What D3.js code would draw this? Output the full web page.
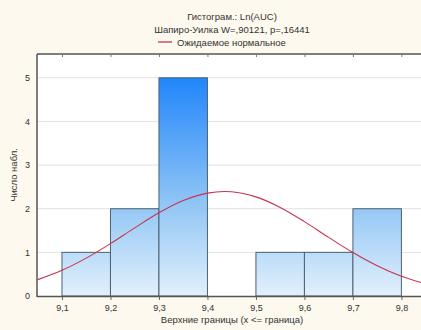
<!DOCTYPE html>
<html><head><meta charset="utf-8">
<script src="https://cdn.jsdelivr.net/npm/d3@7"></script>
<style>
html,body{margin:0;padding:0;background:#fdf9ee;}
svg{display:block;font-family:"Liberation Sans",Arial,sans-serif;}
</style></head>
<body><svg id="c" width="421" height="330"></svg>
<script>
const binStarts = [9.1, 9.2, 9.3, 9.4, 9.5, 9.6, 9.7];
const binEnds   = [9.2, 9.3, 9.4, 9.5, 9.6, 9.7, 9.8];
const counts    = [1, 2, 5, 0, 1, 1, 2];
const xTicks = [9.1, 9.2, 9.3, 9.4, 9.5, 9.6, 9.7, 9.8];
const yTicks = [0, 1, 2, 3, 4, 5];
const curveX = [9.05,9.10,9.15,9.20,9.25,9.30,9.35,9.40,9.45,9.50,9.55,9.60,9.65,9.70,9.75,9.80,9.85];
const curveY = [0.375,0.589,0.868,1.200,1.561,1.906,2.187,2.358,2.387,2.271,2.030,1.704,1.343,0.995,0.693,0.452,0.278];
const titleLines = ["Гистограм.: Ln(AUC)", "Шапиро-Уилка W=,90121, p=,16441"];
const legendText = "Ожидаемое нормальное";
const xLabel = "Верхние границы (x <= граница)";
const yLabel = "Число набл.";

const svg = d3.select("#c");
const L = 37, T = 54, B = 296, R = 421;
const x = d3.scaleLinear().domain([9.0485, 9.8404]).range([L, R]);
const y = d3.scaleLinear().domain([0, 5.545]).range([B, T]);

// plot bg
svg.append("rect").attr("x", L).attr("y", T).attr("width", R - L).attr("height", B - T).attr("fill", "#ffffff");

// gradient
const defs = svg.append("defs");
const g = defs.append("linearGradient").attr("id", "bg").attr("gradientUnits", "userSpaceOnUse")
  .attr("x1", 0).attr("x2", 0).attr("y1", y(0)).attr("y2", y(5));
g.append("stop").attr("offset", "0%").attr("stop-color", "#e2f0fc");
g.append("stop").attr("offset", "40%").attr("stop-color", "#95c8f5");
g.append("stop").attr("offset", "100%").attr("stop-color", "#2186fb");

// grid
svg.append("g").selectAll("line").data(yTicks.filter(d => d > 0)).join("line")
  .attr("x1", L).attr("x2", R).attr("y1", d => y(d)).attr("y2", d => y(d))
  .attr("stroke", "#e2e2e2").attr("stroke-width", 1);

// bars
svg.append("g").selectAll("rect").data(counts.map((c, i) => ({c, s: binStarts[i], e: binEnds[i]})).filter(d => d.c > 0))
  .join("rect")
  .attr("x", d => x(d.s)).attr("y", d => y(d.c))
  .attr("width", d => x(d.e) - x(d.s)).attr("height", d => y(0) - y(d.c))
  .attr("fill", "url(#bg)").attr("stroke", "#4d6272").attr("stroke-width", 1);

// curve
const line = d3.line().x((d, i) => x(curveX[i])).y(d => y(d)).curve(d3.curveCatmullRom);
svg.append("path").datum(curveY).attr("d", line).attr("fill", "none")
  .attr("stroke", "#c8324e").attr("stroke-width", 1.1);

// axes frame
svg.append("line").attr("x1", L).attr("x2", R).attr("y1", B + 0.5).attr("y2", B + 0.5).attr("stroke", "#555").attr("stroke-width", 1.5);
svg.append("line").attr("x1", L).attr("x2", R).attr("y1", T).attr("y2", T).attr("stroke", "#555").attr("stroke-width", 1.5);
svg.append("line").attr("x1", L).attr("x2", L).attr("y1", T).attr("y2", B + 1).attr("stroke", "#555").attr("stroke-width", 1.5);

// x ticks bottom and top
const xa = svg.append("g").attr("transform", `translate(0,${B + 1})`)
  .call(d3.axisBottom(x).tickValues(xTicks).tickSize(3).tickFormat(d => d3.format(".1f")(d).replace(".", ",")));
xa.select(".domain").remove();
xa.selectAll("line").attr("stroke", "#666");
xa.selectAll("text").attr("font-size", 9).attr("fill", "#333").attr("dy", "0.85em").attr("font-family", "Liberation Sans, Arial, sans-serif");
const xt = svg.append("g").attr("transform", `translate(0,${T})`)
  .call(d3.axisBottom(x).tickValues(xTicks).tickSize(3).tickFormat(""));
xt.select(".domain").remove();
xt.selectAll("line").attr("stroke", "#777");

// y axis
const ya = svg.append("g").attr("transform", `translate(${L},0)`)
  .call(d3.axisLeft(y).tickValues(yTicks).tickSize(0).tickPadding(7).tickFormat(d3.format("d")));
ya.select(".domain").remove();
ya.selectAll("text").attr("font-size", 9).attr("fill", "#333").attr("font-family", "Liberation Sans, Arial, sans-serif");

// titles
svg.append("g").selectAll("text").data(titleLines).join("text")
  .attr("x", 232).attr("y", (d, i) => 20 + i * 12.5).attr("text-anchor", "middle")
  .attr("font-size", 9.5).attr("fill", "#333").text(d => d);
svg.append("line").attr("x1", 158).attr("x2", 172).attr("y1", 42).attr("y2", 42).attr("stroke", "#c8324e").attr("stroke-width", 1.3);
svg.append("text").attr("x", 177).attr("y", 45.5).attr("font-size", 9.5).attr("fill", "#333").text(legendText);

svg.append("text").attr("x", 232).attr("y", 323).attr("text-anchor", "middle").attr("font-size", 9.5).attr("fill", "#333").text(xLabel);
svg.append("text").attr("transform", "translate(17,175) rotate(-90)").attr("text-anchor", "middle").attr("font-size", 9.5).attr("fill", "#333").text(yLabel);
</script></body></html>
